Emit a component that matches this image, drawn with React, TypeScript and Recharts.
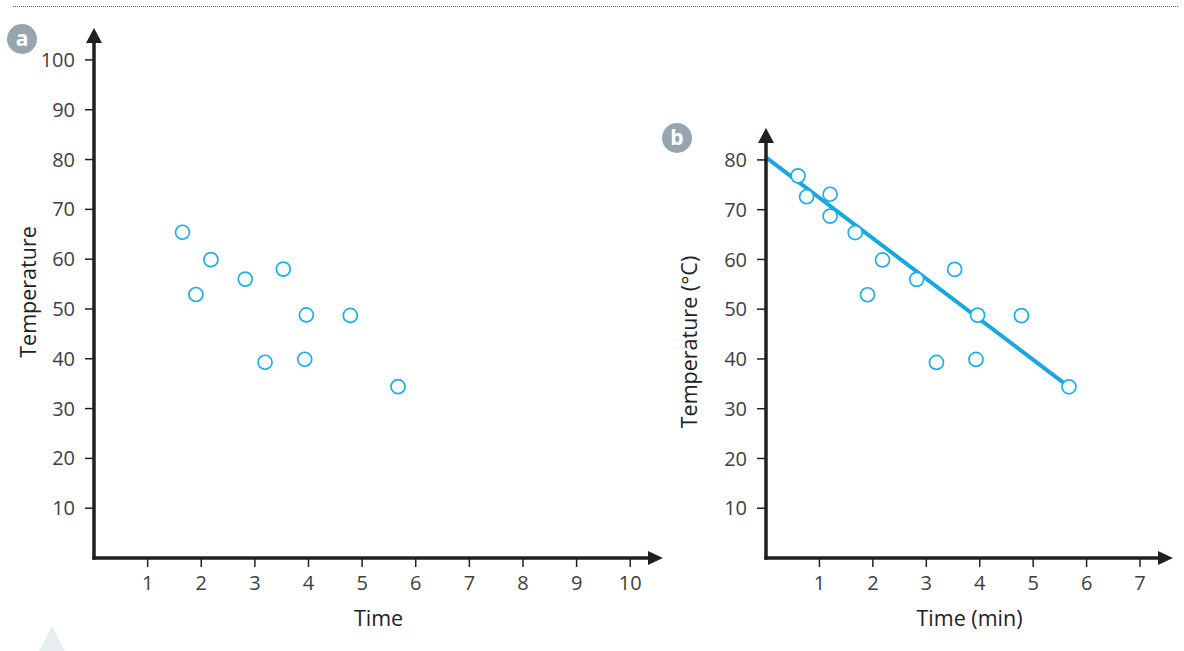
import React from 'react';
import { ScatterChart, Scatter, XAxis, YAxis, ReferenceLine, ReferenceDot } from 'recharts';

// ---- data ----
const timeA = [1.65, 1.9, 2.18, 2.82, 3.53, 3.19, 3.96, 3.93, 4.78, 5.67];
const tempA = [65.4, 52.9, 59.9, 56.0, 58.0, 39.3, 48.8, 39.9, 48.7, 34.4];

const timeB = [0.6, 0.76, 1.2, 1.2, 1.67, 1.9, 2.18, 2.82, 3.53, 3.19, 3.96, 3.93, 4.78, 5.67];
const tempB = [76.8, 72.6, 73.1, 68.7, 65.4, 52.9, 59.9, 56.0, 58.0, 39.3, 48.8, 39.9, 48.7, 34.4];

const fitTime = [0, 5.67];
const fitTemp = [80.5, 34.4];

const xTicksA = [1, 2, 3, 4, 5, 6, 7, 8, 9, 10];
const yTicksA = [10, 20, 30, 40, 50, 60, 70, 80, 90, 100];
const xTicksB = [1, 2, 3, 4, 5, 6, 7];
const yTicksB = [10, 20, 30, 40, 50, 60, 70, 80];

const xMaxA = 10.35;
const yMaxA = 103.6;
const xMaxB = 7.355;
const yMaxB = 83.6;

const dataA = timeA.map((x, i) => ({ x, y: tempA[i] }));
const dataB = timeB.map((x, i) => ({ x, y: tempB[i] }));
const fitLine = fitTime.map((x, i) => ({ x, y: fitTemp[i] }));

// ---- styles ----
const FONT = "'Open Sans', 'Noto Sans', sans-serif";
const AXIS = '#231f20';
const CYAN = '#1eaee8';
const LINE = '#1aa6df';

const Marker = (props: any) => (
  <circle cx={props.cx} cy={props.cy} r={7} fill="#ffffff" stroke={CYAN} strokeWidth={1.7} />
);

const ArrowRight = (props: any) => (
  <polygon
    points={`${props.cx - 1},${props.cy - 7} ${props.cx + 14},${props.cy} ${props.cx - 1},${props.cy + 7}`}
    fill={AXIS}
  />
);
const ArrowUp = (props: any) => (
  <polygon
    points={`${props.cx - 8},${props.cy + 1} ${props.cx},${props.cy - 14} ${props.cx + 8},${props.cy + 1}`}
    fill={AXIS}
  />
);

const YTitle = (props: any) => {
  const vb = props.viewBox || {};
  const cx = vb.x + props.dx;
  const cy = vb.y + vb.height / 2 - 8;
  return (
    <text
      x={cx}
      y={cy}
      transform={`rotate(-90 ${cx} ${cy})`}
      textAnchor="middle"
      dominantBaseline="central"
      fontFamily={FONT}
      fontSize={21.5}
      fill="#222"
    >
      {props.text}
    </text>
  );
};

const XTitle = (props: any) => {
  const vb = props.viewBox || {};
  const cx = vb.x + vb.width / 2 + 7;
  const cy = vb.y + 59;
  return (
    <text x={cx} y={cy} textAnchor="middle" dominantBaseline="central" fontFamily={FONT} fontSize={21.5} fill="#222">
      {props.text}
    </text>
  );
};

const tickStyle = { fill: '#404040', fontSize: 20, fontFamily: FONT };
const tickLineStyle = { stroke: AXIS, strokeWidth: 1.5 };
const axisLineStyle = { stroke: AXIS, strokeWidth: 3.5, strokeLinecap: 'square' as const };

const Badge = ({ letter, left, top }: { letter: string; left: number; top: number }) => (
  <div
    style={{
      position: 'absolute',
      left: left - 15,
      top: top - 15,
      width: 30,
      height: 30,
      borderRadius: '50%',
      background: '#97a6ae',
      color: '#fff',
      fontFamily: FONT,
      fontWeight: 700,
      fontSize: 21,
      lineHeight: '29px',
      textAlign: 'center',
    }}
  >
    {letter}
  </div>
);

export default function App() {
  return (
    <div style={{ position: 'absolute', left: 0, top: 0, width: 1184, height: 651, background: '#fff', overflow: 'hidden' }}>
      <div style={{ position: 'absolute', left: 13, top: 6, width: 1165, borderTop: '1px dotted #555' }} />

      <div style={{ position: 'absolute', left: 0, top: 0 }}>
        <ScatterChart width={670} height={651} margin={{ top: 42, right: 21, bottom: 33, left: 34 }}>
          <XAxis
            type="number"
            dataKey="x"
            domain={[0, xMaxA]}
            ticks={xTicksA}
            interval={0}
            allowDataOverflow
            height={60}
            tickSize={9}
            tickMargin={9}
            tick={tickStyle}
            tickLine={tickLineStyle}
            axisLine={axisLineStyle}
            label={<XTitle text="Time" />}
          />
          <YAxis
            type="number"
            dataKey="y"
            domain={[0, yMaxA]}
            ticks={yTicksA}
            interval={0}
            allowDataOverflow
            width={60}
            tickSize={9}
            tickMargin={10}
            tick={tickStyle}
            tickLine={tickLineStyle}
            axisLine={axisLineStyle}
            label={<YTitle text="Temperature" dx={-7} />}
          />
          <ReferenceDot x={xMaxA} y={0} ifOverflow="visible" shape={ArrowRight} />
          <ReferenceDot x={0} y={yMaxA} ifOverflow="visible" shape={ArrowUp} />
          <Scatter data={dataA} shape={Marker} isAnimationActive={false} />
        </ScatterChart>
      </div>

      <div style={{ position: 'absolute', left: 600, top: 0 }}>
        <ScatterChart width={584} height={651} margin={{ top: 142, right: 25, bottom: 33, left: 106 }}>
          <XAxis
            type="number"
            dataKey="x"
            domain={[0, xMaxB]}
            ticks={xTicksB}
            interval={0}
            allowDataOverflow
            height={60}
            tickSize={9}
            tickMargin={9}
            tick={tickStyle}
            tickLine={tickLineStyle}
            axisLine={axisLineStyle}
            label={<XTitle text="Time (min)" />}
          />
          <YAxis
            type="number"
            dataKey="y"
            domain={[0, yMaxB]}
            ticks={yTicksB}
            interval={0}
            allowDataOverflow
            width={60}
            tickSize={9}
            tickMargin={10}
            tick={tickStyle}
            tickLine={tickLineStyle}
            axisLine={axisLineStyle}
            label={<YTitle text="Temperature (°C)" dx={-18} />}
          />
          <ReferenceLine segment={fitLine} stroke={LINE} strokeWidth={4} ifOverflow="visible" />
          <ReferenceDot x={xMaxB} y={0} ifOverflow="visible" shape={ArrowRight} />
          <ReferenceDot x={0} y={yMaxB} ifOverflow="visible" shape={ArrowUp} />
          <Scatter data={dataB} shape={Marker} isAnimationActive={false} />
        </ScatterChart>
      </div>

      <Badge letter="a" left={22} top={39} />
      <Badge letter="b" left={677} top={138} />

      <svg style={{ position: 'absolute', left: 39, top: 626 }} width={26} height={25}>
        <polygon points="13,0 26,25 0,25" fill="#e6eef1" />
      </svg>
    </div>
  );
}
